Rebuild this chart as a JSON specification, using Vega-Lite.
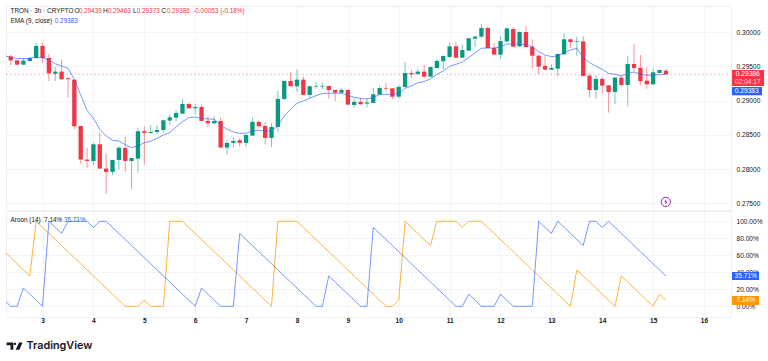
{
"$schema":"https://vega.github.io/schema/vega-lite/v6.json",
"background":"white",
"padding":{"left":5,"top":5,"right":0,"bottom":0},
"spacing":1,
"bounds":"flush",
"config":{"view":{"stroke":"#eef0f4"},"font":"Liberation Sans","axis":{"gridColor":"#f3f4f6","gridWidth":1,"domain":false,"ticks":false,"labelColor":"#131722","labelFontSize":6.6,"title":null}},
"datasets":{
"candles":[
{"t":2.375,"o":0.29649,"h":0.29668,"l":0.29522,"c":0.29590},
{"t":2.5,"o":0.29590,"h":0.29600,"l":0.29517,"c":0.29527},
{"t":2.625,"o":0.29527,"h":0.29619,"l":0.29522,"c":0.29585},
{"t":2.75,"o":0.29580,"h":0.29639,"l":0.29571,"c":0.29624},
{"t":2.875,"o":0.29624,"h":0.29843,"l":0.29614,"c":0.29800},
{"t":3.0,"o":0.29800,"h":0.29848,"l":0.29556,"c":0.29624},
{"t":3.125,"o":0.29624,"h":0.29678,"l":0.29288,"c":0.29400},
{"t":3.25,"o":0.29395,"h":0.29493,"l":0.29288,"c":0.29425},
{"t":3.375,"o":0.29425,"h":0.29605,"l":0.29298,"c":0.29313},
{"t":3.5,"o":0.29327,"h":0.29347,"l":0.29045,"c":0.29313},
{"t":3.625,"o":0.29308,"h":0.29308,"l":0.28587,"c":0.28626},
{"t":3.75,"o":0.28631,"h":0.28631,"l":0.28080,"c":0.28139},
{"t":3.875,"o":0.28139,"h":0.28314,"l":0.28022,"c":0.28119},
{"t":4.0,"o":0.28119,"h":0.28387,"l":0.28056,"c":0.28363},
{"t":4.125,"o":0.28363,"h":0.28538,"l":0.28007,"c":0.28007},
{"t":4.25,"o":0.28007,"h":0.28227,"l":0.27642,"c":0.27959},
{"t":4.375,"o":0.27959,"h":0.28134,"l":0.27915,"c":0.28134},
{"t":4.5,"o":0.28134,"h":0.28329,"l":0.27998,"c":0.28314},
{"t":4.625,"o":0.28309,"h":0.28470,"l":0.27959,"c":0.28119},
{"t":4.75,"o":0.28119,"h":0.28163,"l":0.27705,"c":0.28163},
{"t":4.875,"o":0.28153,"h":0.28606,"l":0.27944,"c":0.28553},
{"t":5.0,"o":0.28553,"h":0.28626,"l":0.28066,"c":0.28528},
{"t":5.125,"o":0.28528,"h":0.28645,"l":0.28519,"c":0.28543},
{"t":5.25,"o":0.28543,"h":0.28645,"l":0.28509,"c":0.28572},
{"t":5.375,"o":0.28572,"h":0.28728,"l":0.28533,"c":0.28714},
{"t":5.5,"o":0.28709,"h":0.28801,"l":0.28640,"c":0.28757},
{"t":5.625,"o":0.28752,"h":0.28860,"l":0.28694,"c":0.28821},
{"t":5.75,"o":0.28811,"h":0.29030,"l":0.28806,"c":0.28952},
{"t":5.875,"o":0.28952,"h":0.28967,"l":0.28884,"c":0.28889},
{"t":6.0,"o":0.28889,"h":0.28957,"l":0.28801,"c":0.28908},
{"t":6.125,"o":0.28909,"h":0.28948,"l":0.28695,"c":0.28704},
{"t":6.25,"o":0.28704,"h":0.28772,"l":0.28617,"c":0.28670},
{"t":6.375,"o":0.28670,"h":0.28768,"l":0.28656,"c":0.28704},
{"t":6.5,"o":0.28704,"h":0.28753,"l":0.28305,"c":0.28315},
{"t":6.625,"o":0.28315,"h":0.28422,"l":0.28208,"c":0.28383},
{"t":6.75,"o":0.28383,"h":0.28461,"l":0.28315,"c":0.28412},
{"t":6.875,"o":0.28422,"h":0.28451,"l":0.28329,"c":0.28383},
{"t":7.0,"o":0.28383,"h":0.28500,"l":0.28329,"c":0.28500},
{"t":7.125,"o":0.28490,"h":0.28753,"l":0.28485,"c":0.28690},
{"t":7.25,"o":0.28690,"h":0.28709,"l":0.28607,"c":0.28626},
{"t":7.375,"o":0.28631,"h":0.28690,"l":0.28359,"c":0.28456},
{"t":7.5,"o":0.28456,"h":0.28675,"l":0.28324,"c":0.28617},
{"t":7.625,"o":0.28617,"h":0.29143,"l":0.28544,"c":0.29026},
{"t":7.75,"o":0.29026,"h":0.29289,"l":0.29011,"c":0.29289},
{"t":7.875,"o":0.29289,"h":0.29415,"l":0.29206,"c":0.29211},
{"t":8.0,"o":0.29211,"h":0.29459,"l":0.29128,"c":0.29308},
{"t":8.125,"o":0.29308,"h":0.29357,"l":0.29084,"c":0.29084},
{"t":8.25,"o":0.29084,"h":0.29221,"l":0.29045,"c":0.29211},
{"t":8.375,"o":0.29206,"h":0.29279,"l":0.29177,"c":0.29216},
{"t":8.5,"o":0.29206,"h":0.29264,"l":0.29162,"c":0.29216},
{"t":8.625,"o":0.29216,"h":0.29221,"l":0.29031,"c":0.29157},
{"t":8.75,"o":0.29157,"h":0.29162,"l":0.28996,"c":0.29118},
{"t":8.875,"o":0.29118,"h":0.29186,"l":0.29104,"c":0.29157},
{"t":9.0,"o":0.29157,"h":0.29167,"l":0.28933,"c":0.28943},
{"t":9.125,"o":0.28938,"h":0.29031,"l":0.28899,"c":0.28982},
{"t":9.25,"o":0.28982,"h":0.29045,"l":0.28938,"c":0.28948},
{"t":9.375,"o":0.28958,"h":0.29035,"l":0.28899,"c":0.28977},
{"t":9.5,"o":0.28967,"h":0.29191,"l":0.28962,"c":0.29094},
{"t":9.625,"o":0.29089,"h":0.29221,"l":0.29079,"c":0.29186},
{"t":9.75,"o":0.29186,"h":0.29259,"l":0.29133,"c":0.29177},
{"t":9.875,"o":0.29181,"h":0.29186,"l":0.29020,"c":0.29059},
{"t":10.0,"o":0.29059,"h":0.29230,"l":0.29030,"c":0.29201},
{"t":10.125,"o":0.29201,"h":0.29566,"l":0.29191,"c":0.29405},
{"t":10.25,"o":0.29405,"h":0.29449,"l":0.29327,"c":0.29386},
{"t":10.375,"o":0.29391,"h":0.29469,"l":0.29376,"c":0.29425},
{"t":10.5,"o":0.29425,"h":0.29522,"l":0.29322,"c":0.29352},
{"t":10.625,"o":0.29352,"h":0.29498,"l":0.29342,"c":0.29493},
{"t":10.75,"o":0.29478,"h":0.29610,"l":0.29469,"c":0.29581},
{"t":10.875,"o":0.29576,"h":0.29663,"l":0.29454,"c":0.29654},
{"t":11.0,"o":0.29639,"h":0.29848,"l":0.29629,"c":0.29795},
{"t":11.125,"o":0.29795,"h":0.29858,"l":0.29620,"c":0.29629},
{"t":11.25,"o":0.29629,"h":0.29824,"l":0.29624,"c":0.29741},
{"t":11.375,"o":0.29732,"h":0.29917,"l":0.29727,"c":0.29912},
{"t":11.5,"o":0.29907,"h":0.29956,"l":0.29785,"c":0.29936},
{"t":11.625,"o":0.29936,"h":0.30121,"l":0.29917,"c":0.30063},
{"t":11.75,"o":0.30063,"h":0.30092,"l":0.29761,"c":0.29770},
{"t":11.875,"o":0.29770,"h":0.29839,"l":0.29668,"c":0.29673},
{"t":12.0,"o":0.29673,"h":0.29946,"l":0.29620,"c":0.29873},
{"t":12.125,"o":0.29868,"h":0.30063,"l":0.29848,"c":0.30058},
{"t":12.25,"o":0.30048,"h":0.30077,"l":0.29785,"c":0.29790},
{"t":12.375,"o":0.29795,"h":0.30014,"l":0.29785,"c":0.30004},
{"t":12.5,"o":0.30004,"h":0.30092,"l":0.29770,"c":0.29785},
{"t":12.625,"o":0.29790,"h":0.29897,"l":0.29473,"c":0.29658},
{"t":12.75,"o":0.29658,"h":0.29678,"l":0.29386,"c":0.29498},
{"t":12.875,"o":0.29507,"h":0.29654,"l":0.29449,"c":0.29454},
{"t":13.0,"o":0.29454,"h":0.29537,"l":0.29449,"c":0.29478},
{"t":13.125,"o":0.29469,"h":0.29693,"l":0.29357,"c":0.29683},
{"t":13.25,"o":0.29678,"h":0.29990,"l":0.29673,"c":0.29897},
{"t":13.375,"o":0.29897,"h":0.29907,"l":0.29770,"c":0.29858},
{"t":13.5,"o":0.29863,"h":0.29936,"l":0.29654,"c":0.29873},
{"t":13.625,"o":0.29868,"h":0.29946,"l":0.29357,"c":0.29361},
{"t":13.75,"o":0.29366,"h":0.29400,"l":0.29045,"c":0.29157},
{"t":13.875,"o":0.29157,"h":0.29371,"l":0.29025,"c":0.29318},
{"t":14.0,"o":0.29318,"h":0.29347,"l":0.29103,"c":0.29220},
{"t":14.125,"o":0.29225,"h":0.29225,"l":0.28826,"c":0.29128},
{"t":14.25,"o":0.29128,"h":0.29347,"l":0.28952,"c":0.29337},
{"t":14.375,"o":0.29337,"h":0.29371,"l":0.29201,"c":0.29230},
{"t":14.5,"o":0.29230,"h":0.29654,"l":0.28918,"c":0.29537},
{"t":14.625,"o":0.29537,"h":0.29829,"l":0.29434,"c":0.29478},
{"t":14.75,"o":0.29478,"h":0.29668,"l":0.29230,"c":0.29288},
{"t":14.875,"o":0.29293,"h":0.29493,"l":0.29176,"c":0.29240},
{"t":15.0,"o":0.29240,"h":0.29473,"l":0.29235,"c":0.29415},
{"t":15.125,"o":0.29405,"h":0.29459,"l":0.29400,"c":0.29449},
{"t":15.25,"o":0.29439,"h":0.29463,"l":0.29373,"c":0.29386}
],
"ema":[
{"t":2.25,"e":0.29663},{"t":2.375,"e":0.29629},{"t":2.5,"e":0.29619},{"t":2.625,"e":0.29615},{"t":2.75,"e":0.29619},{"t":2.875,"e":0.29634},{"t":3.0,"e":0.29629},{"t":3.125,"e":0.29595},{"t":3.25,"e":0.29541},{"t":3.375,"e":0.29507},{"t":3.5,"e":0.29473},{"t":3.625,"e":0.29313},{"t":3.75,"e":0.29084},{"t":3.875,"e":0.28860},{"t":4.0,"e":0.28743},{"t":4.125,"e":0.28582},{"t":4.25,"e":0.28485},{"t":4.375,"e":0.28421},{"t":4.5,"e":0.28412},{"t":4.625,"e":0.28358},{"t":4.75,"e":0.28314},{"t":4.875,"e":0.28339},{"t":5.0,"e":0.28387},{"t":5.125,"e":0.28407},{"t":5.25,"e":0.28451},{"t":5.375,"e":0.28499},{"t":5.5,"e":0.28533},{"t":5.625,"e":0.28616},{"t":5.75,"e":0.28694},{"t":5.875,"e":0.28752},{"t":6.0,"e":0.28762},{"t":6.125,"e":0.28740},{"t":6.25,"e":0.28734},{"t":6.375,"e":0.28729},{"t":6.5,"e":0.28646},{"t":6.625,"e":0.28583},{"t":6.75,"e":0.28544},{"t":6.875,"e":0.28524},{"t":7.0,"e":0.28524},{"t":7.125,"e":0.28558},{"t":7.25,"e":0.28568},{"t":7.375,"e":0.28558},{"t":7.5,"e":0.28558},{"t":7.625,"e":0.28631},{"t":7.75,"e":0.28777},{"t":7.875,"e":0.28875},{"t":8.0,"e":0.28962},{"t":8.125,"e":0.28996},{"t":8.25,"e":0.29035},{"t":8.375,"e":0.29074},{"t":8.5,"e":0.29104},{"t":8.625,"e":0.29109},{"t":8.75,"e":0.29109},{"t":8.875,"e":0.29109},{"t":9.0,"e":0.29079},{"t":9.125,"e":0.29050},{"t":9.25,"e":0.29031},{"t":9.375,"e":0.29026},{"t":9.5,"e":0.29045},{"t":9.625,"e":0.29094},{"t":9.75,"e":0.29094},{"t":9.875,"e":0.29089},{"t":10.0,"e":0.29108},{"t":10.125,"e":0.29181},{"t":10.25,"e":0.29215},{"t":10.375,"e":0.29264},{"t":10.5,"e":0.29279},{"t":10.625,"e":0.29322},{"t":10.75,"e":0.29386},{"t":10.875,"e":0.29434},{"t":11.0,"e":0.29503},{"t":11.125,"e":0.29532},{"t":11.25,"e":0.29566},{"t":11.375,"e":0.29629},{"t":11.5,"e":0.29697},{"t":11.625,"e":0.29766},{"t":11.75,"e":0.29770},{"t":11.875,"e":0.29770},{"t":12.0,"e":0.29785},{"t":12.125,"e":0.29829},{"t":12.25,"e":0.29829},{"t":12.375,"e":0.29824},{"t":12.5,"e":0.29824},{"t":12.625,"e":0.29785},{"t":12.75,"e":0.29717},{"t":12.875,"e":0.29668},{"t":13.0,"e":0.29644},{"t":13.125,"e":0.29654},{"t":13.25,"e":0.29702},{"t":13.375,"e":0.29741},{"t":13.5,"e":0.29766},{"t":13.625,"e":0.29629},{"t":13.75,"e":0.29556},{"t":13.875,"e":0.29507},{"t":14.0,"e":0.29459},{"t":14.125,"e":0.29400},{"t":14.25,"e":0.29386},{"t":14.375,"e":0.29361},{"t":14.5,"e":0.29400},{"t":14.625,"e":0.29420},{"t":14.75,"e":0.29386},{"t":14.875,"e":0.29371},{"t":15.0,"e":0.29376},{"t":15.125,"e":0.29381},{"t":15.25,"e":0.29383}
],
"aroon":[
{"t":2.25,"up":7.14,"down":64.29},{"t":2.375,"up":0,"down":57.14},{"t":2.5,"up":0,"down":50},{"t":2.625,"up":21.43,"down":42.86},{"t":2.75,"up":14.29,"down":35.71},{"t":2.875,"up":7.14,"down":100},{"t":3.0,"up":0,"down":92.86},{"t":3.125,"up":100,"down":85.71},{"t":3.25,"up":92.86,"down":78.57},{"t":3.375,"up":85.71,"down":71.43},{"t":3.5,"up":100,"down":64.29},{"t":3.625,"up":100,"down":57.14},{"t":3.75,"up":100,"down":50},{"t":3.875,"up":100,"down":42.86},{"t":4.0,"up":92.86,"down":35.71},{"t":4.125,"up":100,"down":28.57},{"t":4.25,"up":100,"down":21.43},{"t":4.375,"up":92.86,"down":14.29},{"t":4.5,"up":85.71,"down":7.14},{"t":4.625,"up":78.57,"down":0},{"t":4.75,"up":71.43,"down":0},{"t":4.875,"up":64.29,"down":0},{"t":5.0,"up":57.14,"down":7.14},{"t":5.125,"up":50,"down":0},{"t":5.25,"up":42.86,"down":0},{"t":5.375,"up":35.71,"down":0},{"t":5.5,"up":28.57,"down":100},{"t":5.625,"up":21.43,"down":100},{"t":5.75,"up":14.29,"down":100},{"t":5.875,"up":7.14,"down":92.86},{"t":6.0,"up":0,"down":85.71},{"t":6.125,"up":21.43,"down":78.57},{"t":6.25,"up":14.29,"down":71.43},{"t":6.375,"up":7.14,"down":64.29},{"t":6.5,"up":0,"down":57.14},{"t":6.625,"up":0,"down":50},{"t":6.75,"up":0,"down":42.86},{"t":6.875,"up":85.71,"down":35.71},{"t":7.0,"up":78.57,"down":28.57},{"t":7.125,"up":71.43,"down":21.43},{"t":7.25,"up":64.29,"down":14.29},{"t":7.375,"up":57.14,"down":7.14},{"t":7.5,"up":50,"down":0},{"t":7.625,"up":42.86,"down":100},{"t":7.75,"up":35.71,"down":100},{"t":7.875,"up":28.57,"down":100},{"t":8.0,"up":21.43,"down":100},{"t":8.125,"up":14.29,"down":92.86},{"t":8.25,"up":7.14,"down":85.71},{"t":8.375,"up":0,"down":78.57},{"t":8.5,"up":0,"down":71.43},{"t":8.625,"up":35.71,"down":64.29},{"t":8.75,"up":28.57,"down":57.14},{"t":8.875,"up":21.43,"down":50},{"t":9.0,"up":14.29,"down":42.86},{"t":9.125,"up":7.14,"down":35.71},{"t":9.25,"up":0,"down":28.57},{"t":9.375,"up":0,"down":21.43},{"t":9.5,"up":92.86,"down":14.29},{"t":9.625,"up":85.71,"down":7.14},{"t":9.75,"up":78.57,"down":0},{"t":9.875,"up":71.43,"down":0},{"t":10.0,"up":64.29,"down":7.14},{"t":10.125,"up":57.14,"down":100},{"t":10.25,"up":50,"down":92.86},{"t":10.375,"up":42.86,"down":85.71},{"t":10.5,"up":35.71,"down":78.57},{"t":10.625,"up":28.57,"down":71.43},{"t":10.75,"up":21.43,"down":100},{"t":10.875,"up":14.29,"down":100},{"t":11.0,"up":7.14,"down":100},{"t":11.125,"up":0,"down":100},{"t":11.25,"up":0,"down":92.86},{"t":11.375,"up":14.29,"down":100},{"t":11.5,"up":7.14,"down":100},{"t":11.625,"up":0,"down":100},{"t":11.75,"up":0,"down":92.86},{"t":11.875,"up":0,"down":85.71},{"t":12.0,"up":14.29,"down":78.57},{"t":12.125,"up":7.14,"down":71.43},{"t":12.25,"up":0,"down":64.29},{"t":12.375,"up":0,"down":57.14},{"t":12.5,"up":0,"down":50},{"t":12.625,"up":0,"down":42.86},{"t":12.75,"up":100,"down":35.71},{"t":12.875,"up":92.86,"down":28.57},{"t":13.0,"up":85.71,"down":21.43},{"t":13.125,"up":100,"down":14.29},{"t":13.25,"up":92.86,"down":7.14},{"t":13.375,"up":85.71,"down":0},{"t":13.5,"up":78.57,"down":42.86},{"t":13.625,"up":71.43,"down":35.71},{"t":13.75,"up":100,"down":28.57},{"t":13.875,"up":100,"down":21.43},{"t":14.0,"up":92.86,"down":14.29},{"t":14.125,"up":100,"down":7.14},{"t":14.25,"up":92.86,"down":0},{"t":14.375,"up":85.71,"down":35.71},{"t":14.5,"up":78.57,"down":28.57},{"t":14.625,"up":71.43,"down":21.43},{"t":14.75,"up":64.29,"down":14.29},{"t":14.875,"up":57.14,"down":7.14},{"t":15.0,"up":50,"down":0},{"t":15.125,"up":42.86,"down":14.29},{"t":15.25,"up":35.71,"down":7.14}
],
"head":[
{"txt":"TRON · 3h · CRYPTO","t":2.371,"p":0.30307,"k":"dark"},
{"txt":"O","t":3.63,"p":0.30307,"k":"dark"},
{"txt":"0.29439","t":3.71,"p":0.30307,"k":"red"},
{"txt":"H","t":4.19,"p":0.30307,"k":"dark"},
{"txt":"0.29463","t":4.28,"p":0.30307,"k":"red"},
{"txt":"L","t":4.78,"p":0.30307,"k":"dark"},
{"txt":"0.29373","t":4.85,"p":0.30307,"k":"red"},
{"txt":"C","t":5.34,"p":0.30307,"k":"dark"},
{"txt":"0.29386","t":5.44,"p":0.30307,"k":"red"},
{"txt":"-0.00053 (-0.18%)","t":5.96,"p":0.30307,"k":"red"},
{"txt":"EMA (9, close)","t":2.371,"p":0.30170,"k":"dark"},
{"txt":"0.29383","t":3.24,"p":0.30170,"k":"blue"}
],
"head2":[
{"txt":"Aroon (14)","t":2.371,"p":101.5,"k":"dark"},
{"txt":"7.14%","t":3.03,"p":101.5,"k":"orange"},
{"txt":"35.71%","t":3.42,"p":101.5,"k":"blue"}
],
"one":[{"n":1}]
},
"vconcat":[
{
"width":725,"height":204,
"data":{"name":"one"},
"layer":[
{"data":{"name":"candles"},"mark":{"type":"rule","strokeWidth":1,"opacity":0.55},
 "encoding":{"x":{"field":"t","type":"quantitative","scale":{"domain":[2.282,16.53],"nice":false,"zero":false,"padding":0},"axis":{"values":[3,4,5,6,7,8,9,10,11,12,13,14,15,16],"tickCount":14,"labels":false,"grid":true}},
 "y":{"field":"l","type":"quantitative","scale":{"domain":[0.27402,0.303845],"nice":false,"zero":false},"axis":{"orient":"right","values":[0.275,0.28,0.285,0.29,0.295,0.3],"tickCount":6,"format":".5f","labelPadding":5,"grid":true}},"y2":{"field":"h"},
  "color":{"condition":{"test":"datum.c>=datum.o","value":"#089981"},"value":"#F23645"}}},
{"data":{"name":"candles"},"mark":{"type":"bar","size":4.3},
 "encoding":{"x":{"field":"t","type":"quantitative","scale":{"domain":[2.282,16.53],"nice":false,"zero":false,"padding":0}},"y":{"field":"o","type":"quantitative"},"y2":{"field":"c"},
  "color":{"condition":{"test":"datum.c>=datum.o","value":"#089981"},"value":"#F23645"}}},
{"data":{"name":"ema"},"mark":{"type":"line","stroke":"#2962FF","strokeWidth":1,"opacity":0.65,"clip":true},
 "encoding":{"x":{"field":"t","type":"quantitative"},"y":{"field":"e","type":"quantitative"}}},
{"mark":{"type":"rule","stroke":"#F23645","strokeDash":[2,2],"strokeWidth":1,"opacity":0.3},"encoding":{"x":{"datum":2.282,"type":"quantitative"},"x2":{"datum":16.53},"y":{"datum":0.29386,"type":"quantitative"}}},
{"data":{"name":"head"},"mark":{"type":"text","align":"left","baseline":"middle","fontSize":6.4},
 "encoding":{"x":{"field":"t","type":"quantitative"},"y":{"field":"p","type":"quantitative"},"text":{"field":"txt"},
  "color":{"field":"k","legend":null,"scale":{"domain":["dark","red","blue"],"range":["#131722","#F23645","#2962FF"]}}}},
{"mark":{"type":"rect","fill":"#F23645"},"encoding":{"x":{"datum":16.55,"type":"quantitative"},"x2":{"datum":17.18},"y":{"datum":0.29449,"type":"quantitative"},"y2":{"datum":0.29215}}},
{"mark":{"type":"rect","fill":"#2962FF"},"encoding":{"x":{"datum":16.55,"type":"quantitative"},"x2":{"datum":17.14},"y":{"datum":0.29200,"type":"quantitative"},"y2":{"datum":0.29079}}},
{"mark":{"type":"text","fill":"white","fontSize":6.6,"align":"center","baseline":"middle","text":"0.29386"},"encoding":{"x":{"datum":16.86,"type":"quantitative"},"y":{"datum":0.29386,"type":"quantitative"}}},
{"mark":{"type":"text","fill":"white","opacity":0.75,"fontSize":6.6,"align":"center","baseline":"middle","text":"02:04:17"},"encoding":{"x":{"datum":16.86,"type":"quantitative"},"y":{"datum":0.29280,"type":"quantitative"}}},
{"mark":{"type":"text","fill":"white","fontSize":6.6,"align":"center","baseline":"middle","text":"0.29383"},"encoding":{"x":{"datum":16.84,"type":"quantitative"},"y":{"datum":0.29140,"type":"quantitative"}}},
{"mark":{"type":"point","shape":"circle","size":85,"stroke":"#9C27B0","strokeWidth":1,"filled":false,"opacity":1},"encoding":{"x":{"datum":15.25,"type":"quantitative"},"y":{"datum":0.2752,"type":"quantitative"}}},
{"mark":{"type":"point","shape":"M0.2 -1L-0.6 0.15H-0.05L-0.2 1L0.6 -0.15H0.05Z","size":30,"fill":"#9C27B0","filled":true,"opacity":1,"strokeWidth":0},"encoding":{"x":{"datum":15.25,"type":"quantitative"},"y":{"datum":0.2752,"type":"quantitative"}}}
]
},
{
"width":725,"height":106,
"data":{"name":"one"},
"layer":[
{"data":{"name":"aroon"},"mark":{"type":"line","stroke":"#FF9800","strokeWidth":1,"opacity":0.75,"clip":true},"encoding":{"x":{"field":"t","type":"quantitative","scale":{"domain":[2.282,16.53],"nice":false,"zero":false,"padding":0},"axis":{"values":[3,4,5,6,7,8,9,10,11,12,13,14,15,16],"tickCount":14,"format":"d","labelPadding":0,"grid":true,"labelFontWeight":600}},"y":{"field":"down","type":"quantitative","scale":{"domain":[-12.6,112.1],"nice":false,"zero":false},"axis":{"orient":"right","values":[0,20,40,60,80,100],"tickCount":6,"format":".2f","labelExpr":"datum.label+'%'","labelOverlap":false,"labelPadding":5,"grid":true}}}},
{"data":{"name":"aroon"},"mark":{"type":"line","stroke":"#2962FF","strokeWidth":1,"opacity":0.65,"clip":true},"encoding":{"x":{"field":"t","type":"quantitative"},"y":{"field":"up","type":"quantitative"}}},
{"data":{"name":"head2"},"mark":{"type":"text","align":"left","baseline":"middle","fontSize":6.4},
 "encoding":{"x":{"field":"t","type":"quantitative"},"y":{"field":"p","type":"quantitative"},"text":{"field":"txt"},
  "color":{"field":"k","legend":null,"scale":{"domain":["dark","orange","blue"],"range":["#131722","#FF9800","#2962FF"]}}}},
{"mark":{"type":"rect","fill":"#2962FF"},"encoding":{"x":{"datum":16.55,"type":"quantitative"},"x2":{"datum":17.08},"y":{"datum":40.35,"type":"quantitative"},"y2":{"datum":30.94}}},
{"mark":{"type":"rect","fill":"#FF9800"},"encoding":{"x":{"datum":16.55,"type":"quantitative"},"x2":{"datum":17.08},"y":{"datum":12.1,"type":"quantitative"},"y2":{"datum":1.5}}},
{"mark":{"type":"text","fill":"white","fontSize":6.6,"align":"center","baseline":"middle","text":"35.71%"},"encoding":{"x":{"datum":16.82,"type":"quantitative"},"y":{"datum":35.71,"type":"quantitative"}}},
{"mark":{"type":"text","fill":"white","fontSize":6.6,"align":"center","baseline":"middle","text":"7.14%"},"encoding":{"x":{"datum":16.82,"type":"quantitative"},"y":{"datum":7.14,"type":"quantitative"}}}
]
},
{
"width":725,"height":44,
"view":{"stroke":null},
"data":{"name":"one"},
"encoding":{"x":{"datum":2.685,"type":"quantitative","scale":{"domain":[2.282,16.53],"nice":false,"zero":false},"axis":null},"y":{"datum":0.36,"type":"quantitative","scale":{"domain":[0,1]},"axis":null}},
"layer":[
{"mark":{"type":"text","text":"TradingView","fontSize":10.8,"fontWeight":600,"font":"Inter","fill":"#131722","align":"left","baseline":"middle"}},
{"mark":{"type":"point","shape":"M-1 -0.45H-0.15V0.45H-0.5V-0.12H-1ZM0.55 -0.45H1L0.6 0.45H0.15ZM0.2 -0.28a0.15 0.15 0 1 0 -0.3 0a0.15 0.15 0 1 0 0.3 0Z","size":256,"fill":"#131722","filled":true,"opacity":1,"strokeWidth":0},
 "encoding":{"x":{"datum":2.45,"type":"quantitative"}}}
]
}
]
}
